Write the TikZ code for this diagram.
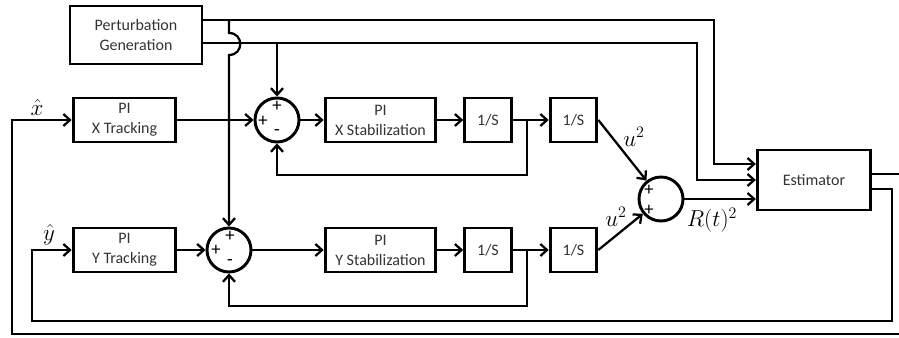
\documentclass[tikz,border=0pt]{standalone}
\usepackage{fontspec}
\setmainfont{Carlito}
\usetikzlibrary{arrows.meta}

\begin{document}
\begin{tikzpicture}[x=0.75pt, y=-0.75pt, >={Straight Barb[length=5pt,width=9pt]}, line width=1.7pt,
  block/.style={draw, line width=2.2pt, align=center, text=black!80, font=\fontsize{12}{15}\selectfont, inner sep=0pt},
  sumnode/.style={draw, circle, line width=2.2pt, minimum size=33pt, inner sep=0pt},
  sign/.style={font=\fontsize{14}{14}\selectfont, inner sep=0pt},
  lbl/.style={font=\fontsize{18}{18}\selectfont, inner sep=0pt}]
  \useasboundingbox (0,0) rectangle (899,338);
  \clip (0,0) rectangle (899,338);

  \node[block, minimum width=99pt, minimum height=43.5pt] (pert) at (136,35) {Perturbation\\Generation};
  \node[block, minimum width=77pt, minimum height=33pt] (xtrack) at (124.5,120) {PI\\X Tracking};
  \node[block, minimum width=77pt, minimum height=33pt] (ytrack) at (124.5,250) {PI\\Y Tracking};
  \node[sumnode] (xsum) at (277,120) {};
  \node[sumnode] (ysum) at (229,250) {};
  \node[block, minimum width=83pt, minimum height=33pt] (xstab) at (380.5,120) {PI\\X Stabilization};
  \node[block, minimum width=83pt, minimum height=33pt] (ystab) at (380.5,250) {PI\\Y Stabilization};
  \node[block, minimum width=35pt, minimum height=33pt] (xint1) at (488,120) {1/S};
  \node[block, minimum width=35pt, minimum height=33pt] (xint2) at (573.5,120) {1/S};
  \node[block, minimum width=35pt, minimum height=33pt] (yint1) at (488,250) {1/S};
  \node[block, minimum width=35pt, minimum height=33pt] (yint2) at (573.5,250) {1/S};
  \node[sumnode] (rsum) at (661,199) {};
  \node[block, minimum width=85pt, minimum height=45pt] (est) at (814,180) {Estimator};

  \path (xsum) ++(0,-14) node[sign] (xsumtop) {+};
  \path (xsum) ++(-14,1) node[sign] (xsumleft) {+};
  \path (xsum) ++(0,13) node[sign] (xsumbot) {-};
  \path (ysum) ++(1,-14) node[sign] (ysumtop) {+};
  \path (ysum) ++(-13,0) node[sign] (ysumleft) {+};
  \path (ysum) ++(1,13) node[sign] (ysumbot) {-};
  \path (rsum) ++(-12,-9) node[sign] (rsumtop) {+};
  \path (rsum) ++(-12,11) node[sign] (rsumbot) {+};

  \node[lbl] (xhat) at (37,108) {$\hat{x}$};
  \node[lbl] (yhat) at (49,235) {$\hat{y}$};
  \node[lbl] (uxsq) at (634,137) {$u^2$};
  \node[lbl] (uysq) at (616,217) {$u^2$};
  \node[lbl] (rsq) at (712,220) {$R(t)^2$};

  \draw[->] (pert.east |- 0,20) -| (714,164) -- (est.west |- 0,164);
  \draw[->] (pert.east |- 0,43) -| (697,180) -- (est.west |- 0,180);
  \draw[->] (xsum.north |- 0,43) -- (xsum.north);
  \draw[->] (229,20) -- (229,33) .. controls (244,33) and (244,55) .. (229,55) -- (ysum.north);

  \draw[->] (xtrack) -- (xsum);
  \draw[->] (xsum) -- (xstab);
  \draw[->] (xstab) -- (xint1);
  \draw[->] (xint1) -- (xint2);
  \coordinate (xfb) at (527,120);
  \draw[->] (xfb) -- (xfb |- 0,175) -| (xsum.south);
  \draw[->] (xint2.east) -- (rsum);

  \draw[->] (ytrack) -- (ysum);
  \draw[->] (ysum) -- (ystab);
  \draw[->] (ystab) -- (yint1);
  \draw[->] (yint1) -- (yint2);
  \coordinate (yfb) at (527,250);
  \draw[->] (yfb) -- (yfb |- 0,306) -| (ysum.south);
  \draw[->] (yint2.east) -- (rsum);

  \draw[->] (rsum) -- (rsum -| est.west);
  \draw[->] (est.east |- 0,174) -- (910,174) -- (910,334) -| (12,120) -- (xtrack.west);
  \draw[->] (est.east |- 0,189) -| (892,321) -| (32,250) -- (ytrack.west);
\end{tikzpicture}
\end{document}
